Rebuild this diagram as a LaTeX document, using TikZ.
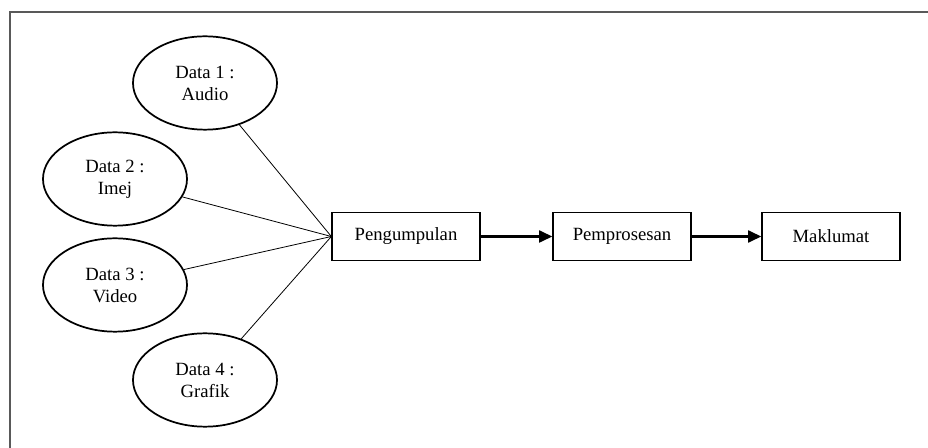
\documentclass[tikz,border=0pt]{standalone}
\usepackage{fontspec}
\setmainfont{Liberation Serif}
\usetikzlibrary{shapes.geometric,arrows.meta}
\begin{document}
\begin{tikzpicture}[x=0.75pt,y=-0.75pt,
  dataell/.style={ellipse,draw,line width=1.3pt,minimum width=108pt,minimum height=70pt,inner sep=0pt,align=center,font=\fontsize{14}{16.5}\selectfont},
  procbox/.style={rectangle,draw,line width=1pt,minimum height=36pt,inner sep=0pt,font=\fontsize{14}{16.5}\selectfont},
  feed/.style={line width=0.6pt},
  flow/.style={line width=1.8pt,-{Triangle[length=10pt,width=9pt]}},
  frameline/.style={draw=black!65,line width=0.8pt}]
\useasboundingbox (0,0) rectangle (928,448);
\coordinate (ftr) at (928,12);
\coordinate (ftl) at (10,12);
\coordinate (fbl) at (10,448);
\draw[frameline] (ftr) -- (ftl) -- (fbl);

\node[dataell] (d1) at (205,83) {Data 1 :\\Audio};
\node[dataell] (d2) at (115,179) {Data 2 :\\Imej};
\node[dataell] (d3) at (115,285) {Data 3 :\\Video};
\node[dataell] (d4) at (205,380) {Data 4 :\\Grafik};

\node[procbox,minimum width=111pt] (p1) at (406,236.5) {Pengumpulan};
\node[procbox,minimum width=103.5pt] (p2) at (622,236.5) {Pemprosesan};
\node[procbox,minimum width=103.5pt] (p3) at (831,236.5) {Maklumat};

\draw[feed] (d1) -- (p1.west);
\draw[feed] (d2) -- (p1.west);
\draw[feed] (d3) -- (p1.west);
\draw[feed] (d4) -- (p1.west);

\draw[flow] (p1) -- (p2);
\draw[flow] (p2) -- (p3);
\end{tikzpicture}
\end{document}
